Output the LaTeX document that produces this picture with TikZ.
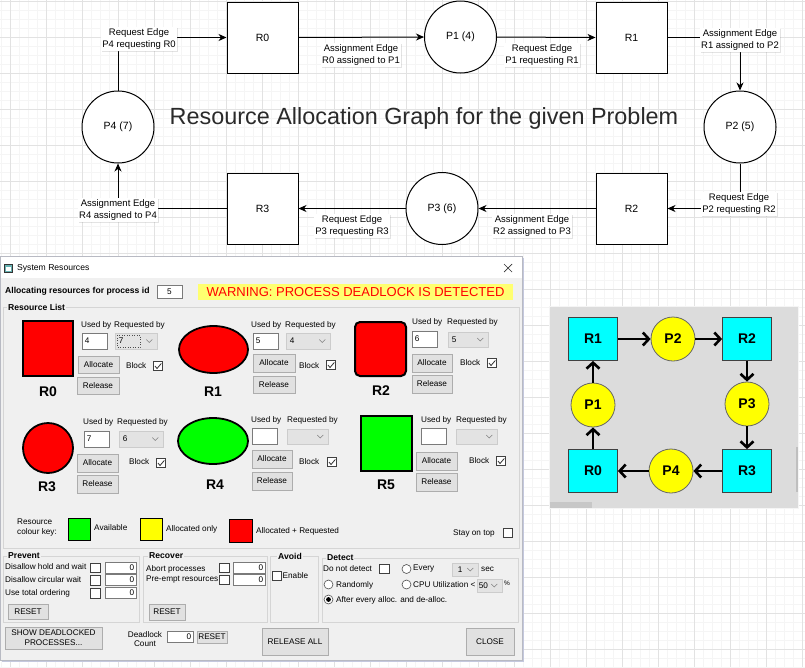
\documentclass[tikz,border=0pt]{standalone}
\usepackage{fontspec}
\setmainfont{Liberation Sans}
\usetikzlibrary{arrows.meta,shadows,calc}
\definecolor{gridmaj}{HTML}{E2E2E2}
\definecolor{gridmin}{HTML}{F5F5F5}
\definecolor{winbg}{HTML}{F0F0F0}
\definecolor{grpline}{HTML}{D5D5D5}
\definecolor{btnfill}{HTML}{E1E1E1}
\definecolor{btnline}{HTML}{ADADAD}
\definecolor{boxline}{HTML}{7A7A7A}
\definecolor{combofill}{HTML}{E3E3E3}
\definecolor{comboline}{HTML}{CCCCCC}
\definecolor{warnyel}{HTML}{FFFF70}
\definecolor{resred}{HTML}{FF0000}
\definecolor{resgreen}{HTML}{00FF00}
\definecolor{keyyel}{HTML}{FFFF00}
\definecolor{panelbg}{HTML}{DCDCDC}
\definecolor{rcyan}{HTML}{00FFFF}
\definecolor{pyel}{HTML}{FFFF00}
\definecolor{titlegrey}{HTML}{2A2A2A}
\definecolor{winshadow}{HTML}{C4C8DE}
\newcommand\uifont{\fontsize{8.2}{9.8}\selectfont}
\newcommand\uibfont{\fontsize{8.6}{10}\selectfont\bfseries}
\newcommand\ragfont{\fontsize{9.5}{12.5}\selectfont}
\newcommand\chevron[1]{\draw[draw=black!50, line width=0.6pt] ($(#1.east)+(-11,-1.5)$) -- ++(3,3) -- ++(3,-3);}
\newcommand\tickmark[1]{\draw[line width=0.8pt, black!80] ($(#1.center)+(-3,0)$) -- ++(2,2.5) -- ++(4.3,-5);}
\tikzset{
  rbox/.style={draw, line width=1pt, minimum width=71pt, minimum height=71pt, inner sep=0pt, fill=white, font=\fontsize{10.5}{12}\selectfont},
  pcirc/.style={draw, circle, line width=1pt, minimum size=72pt, inner sep=0pt, fill=white, font=\fontsize{10.5}{12}\selectfont},
  rag/.style={line width=1pt, -{Stealth[length=8pt,width=7pt,inset=2.5pt]}},
  elbl/.style={fill=white, align=center, inner sep=1.2pt, font=\ragfont, drop shadow={shadow xshift=1pt, shadow yshift=-1pt, opacity=0.22}},
  tbox/.style={draw=boxline, fill=white, line width=0.6pt, inner sep=0pt},
  cbox/.style={draw=comboline, fill=combofill, line width=0.6pt, inner sep=0pt},
  btn/.style={draw=btnline, fill=btnfill, line width=0.6pt, inner sep=0pt, font=\uifont, align=center},
  chkbox/.style={draw=black!75, fill=white, line width=0.6pt, minimum size=9.5pt, inner sep=0pt},
  ui/.style={font=\uifont, inner sep=0pt, anchor=west},
  uib/.style={font=\uibfont, inner sep=0pt, anchor=west, fill=winbg, inner xsep=1pt},
  rlab/.style={font=\fontsize{14}{16}\selectfont\bfseries, inner sep=0pt},
  rsq/.style={draw=black!75, fill=rcyan, line width=0.8pt, minimum width=49pt, minimum height=43pt, inner sep=0pt, font=\fontsize{14}{16}\selectfont\bfseries},
  psm/.style={draw=black!60, fill=pyel, circle, line width=0.8pt, minimum size=44pt, inner sep=0pt, font=\fontsize{14}{16}\selectfont\bfseries},
  parr/.style={line width=2.6pt, -{Straight Barb[length=6pt,width=13pt]}},
  radio/.style={draw=black!70, fill=white, circle, line width=0.6pt, minimum size=9pt, inner sep=0pt},
}
\begin{document}
\begin{tikzpicture}[x=1pt,y=-1pt]
\useasboundingbox (0,0) rectangle (805,667);
\fill[white] (0,0) rectangle (805,667);
% grid
\foreach \x in {1.7,10.7,...,805} \draw[gridmin, line width=0.8pt] (\x,0) -- (\x,667);
\foreach \y in {1,10,...,667} \draw[gridmin, line width=0.8pt] (0,\y) -- (805,\y);
\foreach \x in {10.7,46.7,...,805} \draw[gridmaj, line width=0.8pt] (\x,0) -- (\x,667);
\foreach \y in {1,37,...,667} \draw[gridmaj, line width=0.8pt] (0,\y) -- (805,\y);

% ===== top graph =====
\node[rbox]  (R0) at (262.5,37.5) {R0};
\node[pcirc] (P1) at (460.5,37)   {P1 (4)};
\node[rbox]  (R1) at (631.5,37.5) {R1};
\node[pcirc] (P2) at (740,127)    {P2 (5)};
\node[rbox]  (R2) at (631.5,208.5) {R2};
\node[pcirc] (P3) at (442,208.5)  {P3 (6)};
\node[rbox]  (R3) at (262.5,208.5) {R3};
\node[pcirc] (P4) at (118,127)    {P4 (7)};
\draw[rag] (P4.north) |- (R0.west);
\draw[rag] (R0.east) -- (P1.west);
\draw[rag] (P1.east) -- (R1.west);
\draw[rag] (R1.east) -| (P2.north);
\draw[rag] (P2.south) |- (R2.east);
\draw[rag] (R2.west) -- (P3.east);
\draw[rag] (P3.west) -- (R3.east);
\draw[rag] (R3.west) -| (P4.south);
\node[elbl] (L1) at (139,39)  {Request Edge\\P4 requesting R0};
\node[elbl] (L2) at (361,55)  {Assignment Edge\\R0 assigned to P1};
\node[elbl] (L3) at (542,55)  {Request Edge\\P1 requesting R1};
\node[elbl] (L4) at (740,40)  {Assignment Edge\\R1 assigned to P2};
\node[elbl] (L5) at (739,204) {Request Edge\\P2 requesting R2};
\node[elbl] (L6) at (532,226) {Assignment Edge\\R2 assigned to P3};
\node[elbl] (L7) at (352,226) {Request Edge\\P3 requesting R3};
\node[elbl] (L8) at (118,210) {Assignment Edge\\R4 assigned to P4};
\node[font=\fontsize{23.4}{26}\selectfont, text=titlegrey, inner sep=0pt] (title) at (424,118) {Resource Allocation Graph for the given Problem};

% ===== window =====
\fill[winshadow] (2,258) rectangle (524,662);
\fill[white] (0,256) rectangle (522,278);
\fill[winbg] (0,278) rectangle (522,660);
\draw[winshadow!70!black!60, line width=0.5pt] (0,256) rectangle (522,660);
% title bar
\draw[fill=teal!60, draw=black!80, line width=0.6pt] (4,264) rectangle (12,272);
\fill[white] (6,267) rectangle (11,271);
\node[font=\fontsize{8.6}{10}\selectfont, inner sep=0pt, anchor=west] (wtitle) at (17,268) {System Resources};
\draw[line width=0.7pt, black!80] (504,264) -- (512,272) (512,264) -- (504,272);
% process id row
\node[font=\uibfont, inner sep=0pt, anchor=west] (allocl) at (5,291) {Allocating resources for process id};
\node[tbox, minimum width=25pt, minimum height=13pt, font=\uifont] (pid) at (169.5,291.5) {5};
\node[fill=warnyel, minimum width=315pt, minimum height=16pt, inner sep=0pt, text=resred, font=\fontsize{13}{15}\selectfont] (warn) at (355.5,292) {WARNING: PROCESS DEADLOCK IS DETECTED};

% Resource list group
\draw[grpline, line width=0.6pt] (3,307) rectangle (519,548);
\node[uib] (rlist) at (7,307) {Resource List};

% ---- R0 ----
\draw[fill=resred, line width=2pt] (23,321) rectangle (73,376);
\node[rlab] (r0l) at (48,392) {R0};
\node[ui] (ub0) at (81,325) {Used by};
\node[ui] (rb0) at (114,325) {Requested by};
\node[tbox, minimum width=25pt, minimum height=16pt] (tb0) at (94.5,341) {};
\node[ui] at ([xshift=3pt]tb0.west) {4};
\node[cbox, minimum width=42pt, minimum height=16pt] (cb0) at (136,341) {};
\node[ui] (cb0t) at ([xshift=4pt]cb0.west) {7};
\draw[dotted, black!70, line width=0.5pt] (117,335) rectangle (140,347);
\chevron{cb0}
\node[btn, minimum width=41pt, minimum height=17pt] (al0) at (98.5,364.5) {Allocate};
\node[btn, minimum width=42pt, minimum height=17pt] (re0) at (98,385.5) {Release};
\node[ui] (bl0) at (126,366) {Block};
\node[chkbox] (ck0) at (158,366) {};
\tickmark{ck0}

% ---- R1 ----
\draw[fill=resred, line width=1.8pt] (213.5,349.5) ellipse [x radius=34.5pt, y radius=23.5pt];
\node[rlab] (r1l) at (213,392) {R1};
\node[ui] (ub1) at (251,325) {Used by};
\node[ui] (rb1) at (285,325) {Requested by};
\node[tbox, minimum width=25pt, minimum height=16pt] (tb1) at (265.5,341) {};
\node[ui] at ([xshift=3pt]tb1.west) {5};
\node[cbox, minimum width=44pt, minimum height=16pt] (cb1) at (308,341) {};
\node[ui] at ([xshift=4pt]cb1.west) {4};
\chevron{cb1}
\node[btn, minimum width=42pt, minimum height=18pt] (al1) at (274,363) {Allocate};
\node[btn, minimum width=42pt, minimum height=17pt] (re1) at (274,384.5) {Release};
\node[ui] (bl1) at (299,366) {Block};
\node[chkbox] (ck1) at (331,365) {};
\tickmark{ck1}

% ---- R2 ----
\draw[fill=resred, line width=2pt, rounded corners=5pt] (355,322) rectangle (406,376);
\node[rlab] (r2l) at (381,391) {R2};
\node[ui] (ub2) at (412,322) {Used by};
\node[ui] (rb2) at (447,322) {Requested by};
\node[tbox, minimum width=25pt, minimum height=16pt] (tb2) at (424.5,339) {};
\node[ui] at ([xshift=3pt]tb2.west) {6};
\node[cbox, minimum width=40pt, minimum height=15pt] (cb2) at (468,339.5) {};
\node[ui] at ([xshift=4pt]cb2.west) {5};
\chevron{cb2}
\node[btn, minimum width=40pt, minimum height=18pt] (al2) at (432,363) {Allocate};
\node[btn, minimum width=40pt, minimum height=18pt] (re2) at (432,384) {Release};
\node[ui] (bl2) at (460,363) {Block};
\node[chkbox] (ck2) at (492,363) {};
\tickmark{ck2}

% ---- R3 ----
\draw[fill=resred, line width=1.8pt] (48,448) circle [radius=25pt];
\node[rlab] (r3l) at (47,487) {R3};
\node[ui] (ub3) at (83,422) {Used by};
\node[ui] (rb3) at (117,422) {Requested by};
\node[tbox, minimum width=25pt, minimum height=16pt] (tb3) at (96.5,439) {};
\node[ui] at ([xshift=3pt]tb3.west) {7};
\node[cbox, minimum width=44pt, minimum height=16pt] (cb3) at (141,439) {};
\node[ui] at ([xshift=4pt]cb3.west) {6};
\chevron{cb3}
\node[btn, minimum width=41pt, minimum height=18pt] (al3) at (97.5,463) {Allocate};
\node[btn, minimum width=41pt, minimum height=18pt] (re3) at (97.5,484) {Release};
\node[ui] (bl3) at (129,462) {Block};
\node[chkbox] (ck3) at (161,463) {};
\tickmark{ck3}

% ---- R4 ----
\draw[fill=resgreen, line width=1.8pt] (213,441) ellipse [x radius=35pt, y radius=23pt];
\node[rlab] (r4l) at (215,485) {R4};
\node[ui] (ub4) at (251,420) {Used by};
\node[ui] (rb4) at (287,420) {Requested by};
\node[tbox, minimum width=25pt, minimum height=16pt] (tb4) at (264.5,436) {};
\node[cbox, minimum width=41pt, minimum height=15pt] (cb4) at (307.5,436.5) {};
\chevron{cb4}
\node[btn, minimum width=40pt, minimum height=18pt] (al4) at (272,459) {Allocate};
\node[btn, minimum width=40pt, minimum height=18pt] (re4) at (272,481) {Release};
\node[ui] (bl4) at (299,462) {Block};
\node[chkbox] (ck4) at (332,462) {};
\tickmark{ck4}

% ---- R5 ----
\draw[fill=resgreen, line width=2pt] (361,416) rectangle (412,471);
\node[rlab] (r5l) at (386,485) {R5};
\node[ui] (ub5) at (421,420) {Used by};
\node[ui] (rb5) at (456,420) {Requested by};
\node[tbox, minimum width=25pt, minimum height=16pt] (tb5) at (433.5,436) {};
\node[cbox, minimum width=41pt, minimum height=15pt] (cb5) at (476.5,436.5) {};
\chevron{cb5}
\node[btn, minimum width=41pt, minimum height=18pt] (al5) at (436.5,461) {Allocate};
\node[btn, minimum width=41pt, minimum height=18pt] (re5) at (436.5,482) {Release};
\node[ui] (bl5) at (469,461) {Block};
\node[chkbox] (ck5) at (501,461) {};
\tickmark{ck5}

% ---- key ----
\node[ui, align=left] (keyl) at (17,527.5) {Resource\\colour key:};
\draw[fill=resgreen, line width=0.6pt] (68,518) rectangle (90,540);
\node[ui] (kav) at (94,528) {Available};
\draw[fill=keyyel, line width=0.6pt] (140,518) rectangle (162,540);
\node[ui] (kao) at (166,529) {Allocated only};
\draw[fill=resred, line width=0.6pt] (229,519) rectangle (252,542);
\node[ui] (kar) at (256,531) {Allocated + Requested};
\node[ui] (stay) at (453,533) {Stay on top};
\node[chkbox] (ckst) at (508,533) {};

% ---- Prevent ----
\draw[grpline, line width=0.6pt] (3,556) rectangle (139,622);
\node[uib] (prev) at (7,556) {Prevent};
\node[ui] at (5,567) {Disallow hold and wait};
\node[ui] at (5,580) {Disallow circular wait};
\node[ui] at (5,593) {Use total ordering};
\node[chkbox] (cp1) at (95.5,568) {};
\node[chkbox] (cp2) at (95.5,580.5) {};
\node[chkbox] (cp3) at (95.5,593.5) {};
\node[tbox, minimum width=31pt, minimum height=11pt] (tp1) at (120.5,567.5) {};
\node[tbox, minimum width=31pt, minimum height=11pt] (tp2) at (120.5,580) {};
\node[tbox, minimum width=31pt, minimum height=11pt] (tp3) at (120.5,593) {};
\node[ui, anchor=east] at ([xshift=-2pt]tp1.east) {0};
\node[ui, anchor=east] at ([xshift=-2pt]tp2.east) {0};
\node[ui, anchor=east] at ([xshift=-2pt]tp3.east) {0};
\node[btn, minimum width=40pt, minimum height=15pt] (rsp) at (28,611.5) {RESET};

% ---- Recover ----
\draw[grpline, line width=0.6pt] (143,556) rectangle (267,622);
\node[uib] (recv) at (148,556) {Recover};
\node[ui] at (146,569) {Abort processes};
\node[ui] at (146,580) {Pre-empt resources};
\node[chkbox] (cr1) at (224.5,568) {};
\node[chkbox] (cr2) at (224.5,580) {};
\node[tbox, minimum width=32pt, minimum height=11pt] (tr1) at (249,567.5) {};
\node[tbox, minimum width=32pt, minimum height=11pt] (tr2) at (249,580) {};
\node[ui, anchor=east] at ([xshift=-2pt]tr1.east) {0};
\node[ui, anchor=east] at ([xshift=-2pt]tr2.east) {0};
\node[btn, minimum width=36pt, minimum height=16pt] (rsr) at (167,612) {RESET};

% ---- Avoid ----
\draw[grpline, line width=0.6pt] (270,556) rectangle (318,622);
\node[uib] (avd) at (277,556) {Avoid};
\node[chkbox, minimum size=8.5pt] (cav) at (277,576) {};
\node[ui] at (282.5,576) {Enable};

% ---- Detect ----
\draw[grpline, line width=0.6pt] (322,558) rectangle (518,622);
\node[uib] (dtc) at (326,558) {Detect};
\node[ui] at (323,569) {Do not detect};
\node[chkbox] (cdn) at (384.5,569) {};
\node[radio] (rd1) at (406.5,569) {};
\node[ui] at (413,569) {Every};
\node[cbox, minimum width=26pt, minimum height=13pt] (cbe) at (465,569.5) {};
\node[ui] at ([xshift=6pt]cbe.west) {1};
\chevron{cbe}
\node[ui] at (481,569) {sec};
\node[radio] (rd2) at (328.5,584.5) {};
\node[ui] at (336,585) {Randomly};
\node[radio] (rd3) at (406.5,584.5) {};
\node[ui] at (413,585) {CPU Utilization <};
\node[cbox, minimum width=25pt, minimum height=13pt] (cbc) at (489.5,585.5) {};
\node[ui] at ([xshift=2pt]cbc.west) {50};
\chevron{cbc}
\node[ui, font=\fontsize{6.5}{7}\selectfont] at (504,583) {\%};
\node[radio] (rd4) at (328.5,599.5) {};
\fill[black] (rd4.center) circle [radius=2.4pt];
\node[ui] at (336,600) {After every alloc. and de-alloc.};

% ---- bottom buttons ----
\node[btn, minimum width=97pt, minimum height=22pt] (showb) at (53.5,638) {SHOW DEADLOCKED\\PROCESSES...};
\node[font=\uifont, inner sep=0pt, align=center] (dlc) at (145,639) {Deadlock\\Count};
\node[tbox, minimum width=26pt, minimum height=11pt] (tdc) at (180,637) {};
\node[ui, anchor=east] at ([xshift=-2pt]tdc.east) {0};
\node[btn, minimum width=30pt, minimum height=12pt] (rsd) at (212,637) {RESET};
\node[btn, minimum width=66pt, minimum height=27pt] (relall) at (295,641.5) {RELEASE ALL};
\node[btn, minimum width=48pt, minimum height=27pt] (closeb) at (490,641.5) {CLOSE};

% ===== right panel =====
\fill[white!96!black] (549,306) rectangle (799,509);
\fill[panelbg] (550,307) rectangle (798,508);
\fill[black!22] (550,502) rectangle (592,508);
\fill[black!25] (796,447) rectangle (798,492);
\node[rsq] (qR1) at (593,339) {R1};
\node[psm] (qP2) at (673,339) {P2};
\node[rsq] (qR2) at (747,339) {R2};
\node[psm] (qP3) at (747,404) {P3};
\node[rsq] (qR3) at (747,471) {R3};
\node[psm] (qP4) at (671,471) {P4};
\node[rsq] (qR0) at (593,471) {R0};
\node[psm] (qP1) at (593,405) {P1};
\draw[parr] (qR1.east) -- (qP2.west);
\draw[parr] (qP2.east) -- (qR2.west);
\draw[parr] (qR2.south) -- (qP3.north);
\draw[parr] (qP3.south) -- (qR3.north);
\draw[parr] (qR3.west) -- (qP4.east);
\draw[parr] (qP4.west) -- (qR0.east);
\draw[parr] (qR0.north) -- (qP1.south);
\draw[parr] (qP1.north) -- (qR1.south);
\end{tikzpicture}
\end{document}
